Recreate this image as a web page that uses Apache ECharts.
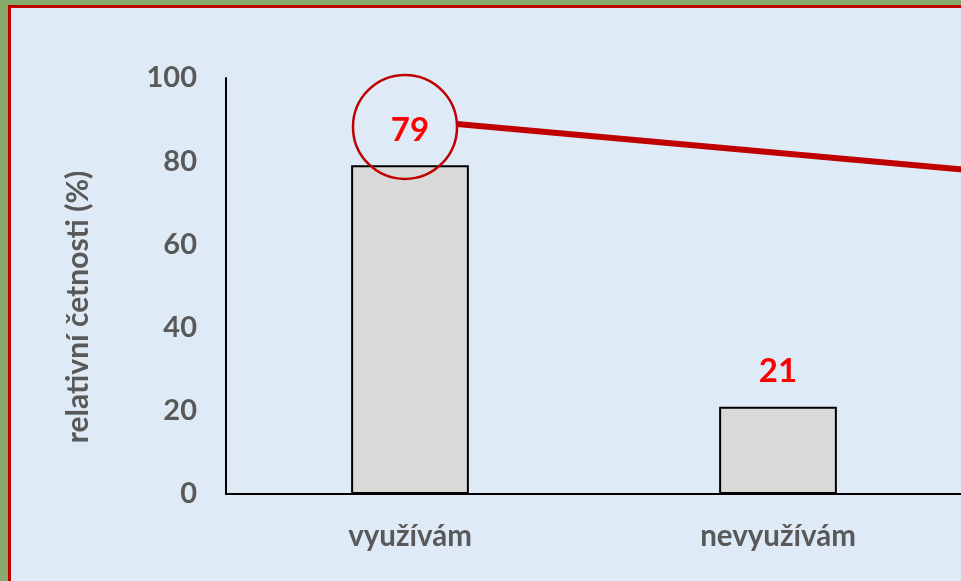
<!DOCTYPE html>
<html><head><meta charset="utf-8">
<script src="https://cdn.jsdelivr.net/npm/echarts@6/dist/echarts.min.js"></script>
<style>
html,body{margin:0;padding:0;width:961px;height:581px;overflow:hidden;background:#87a96b;}
#frame{position:absolute;left:8px;top:5px;width:960px;height:580px;border-left:3px solid #c00000;border-top:3px solid #c00000;background:#deebf7;}
#c{position:absolute;left:0;top:0;width:960px;height:580px;}
</style></head>
<body><div id="frame"><div id="c"></div></div>
<script>
const categories = ['využívám', 'nevyužívám'];
const values = [79, 21];
const yTicks = { min: 0, max: 100, interval: 20 };
const axisTitle = 'relativní četnosti (%)';
const highlightIndex = 0;

const chart = echarts.init(document.getElementById('c'), null, {renderer: 'canvas'});
const font = 'Lato, "Open Sans", sans-serif';
chart.setOption({
  animation: false,
  grid: { left: 215, top: 70, right: 9, bottom: 94, containLabel: false },
  xAxis: {
    type: 'category', data: categories,
    axisLine: { lineStyle: { color: '#000', width: 2 } },
    axisTick: { show: false },
    axisLabel: { color: '#595959', fontFamily: font, fontWeight: 'bold', fontSize: 29.5, margin: 27 }
  },
  yAxis: {
    type: 'value', min: yTicks.min, max: yTicks.max, interval: yTicks.interval,
    name: axisTitle, nameLocation: 'middle', nameGap: 133, nameRotate: 90,
    nameTextStyle: { color: '#595959', fontFamily: font, fontWeight: 'bold', fontSize: 30, padding: [0, 42, 0, 0] },
    axisLine: { show: true, lineStyle: { color: '#000', width: 2 } },
    axisTick: { show: false },
    splitLine: { show: false },
    axisLabel: { color: '#595959', fontFamily: font, fontWeight: 'bold', fontSize: 29, margin: 29 }
  },
  series: [{
    type: 'bar', data: values, barWidth: '32%',
    itemStyle: { color: '#d9d9d9', borderColor: '#000', borderWidth: 2 },
    label: { show: true, position: 'top', distance: 19, color: '#ff0000', fontFamily: font, fontWeight: 'bold', fontSize: 33 }
  }]
});

// annotation: circle around highlighted label and a connector line to the right edge
const c = chart.convertToPixel({gridIndex: 0}, [highlightIndex, values[highlightIndex] + 9]);
const cx = c[0] - 5, cy = c[1] - 1, r = 52;
const W = chart.getWidth();
chart.setOption({
  graphic: [
    { type: 'circle', shape: { cx: cx, cy: cy, r: r }, style: { fill: 'none', stroke: '#c00000', lineWidth: 2.5 }, z: 10 },
    { type: 'line', shape: { x1: cx + r, y1: cy - 3, x2: W, y2: cy - 3 + (W - cx - r) * 0.09 }, style: { stroke: '#c00000', lineWidth: 6 }, z: 10 }
  ]
});
</script>
</body></html>
